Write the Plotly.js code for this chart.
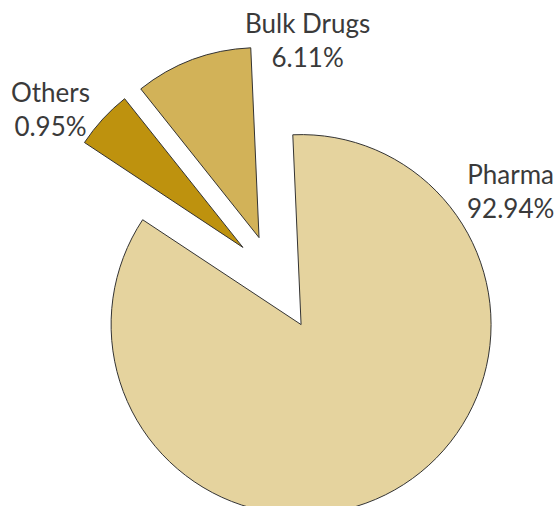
<!DOCTYPE html>
<html>
<head>
<meta charset="utf-8">
<script src="https://cdn.plot.ly/plotly-3.0.1.min.js"></script>
<style>
html, body { margin: 0; padding: 0; overflow: hidden; background: #ffffff; }
#chart { width: 557px; height: 560px; }
</style>
</head>
<body>
<div id="chart"></div>
<script>
// Data (slice order: clockwise from the top)
const categories = ['Pharma', 'Others', 'Bulk Drugs'];
const sliceValues = [85.0, 5.0, 10.0];          // visual slice sizes
const percentLabels = ['92.94%', '0.95%', '6.11%']; // printed labels
const sliceColors = ['#E5D39E', '#BE920E', '#D2B258'];
const slicePull = [0.30, 0.215, 0.21];

// label placement (paper coords), kept separate from data
const labelPos = [
  {x: 0.917, y: 0.659},
  {x: 0.090, y: 0.806},
  {x: 0.552, y: 0.928}
];

const trace = {
  type: 'pie',
  labels: categories,
  values: sliceValues,
  sort: false,
  direction: 'clockwise',
  rotation: -2.5,
  pull: slicePull,
  marker: { colors: sliceColors, line: { color: '#333333', width: 1 } },
  textinfo: 'none',
  hoverinfo: 'label+text',
  text: percentLabels,
  showlegend: false,
  domain: { x: [0.0467, 0.9336], y: [0.0679, 0.95] }
};

const annotations = categories.map((c, i) => ({
  xref: 'paper', yref: 'paper',
  x: labelPos[i].x, y: labelPos[i].y,
  xanchor: 'center', yanchor: 'middle',
  text: c + '<br>' + percentLabels[i],
  showarrow: false,
  font: { family: 'Lato, "Open Sans", sans-serif', size: 26, color: '#3a3a3a' }
}));

const layout = {
  width: 557, height: 560,
  margin: { l: 0, r: 0, t: 0, b: 0 },
  paper_bgcolor: '#ffffff',
  plot_bgcolor: '#ffffff',
  showlegend: false,
  annotations: annotations
};

Plotly.newPlot('chart', [trace], layout, { displayModeBar: false, staticPlot: true });
</script>
</body>
</html>
